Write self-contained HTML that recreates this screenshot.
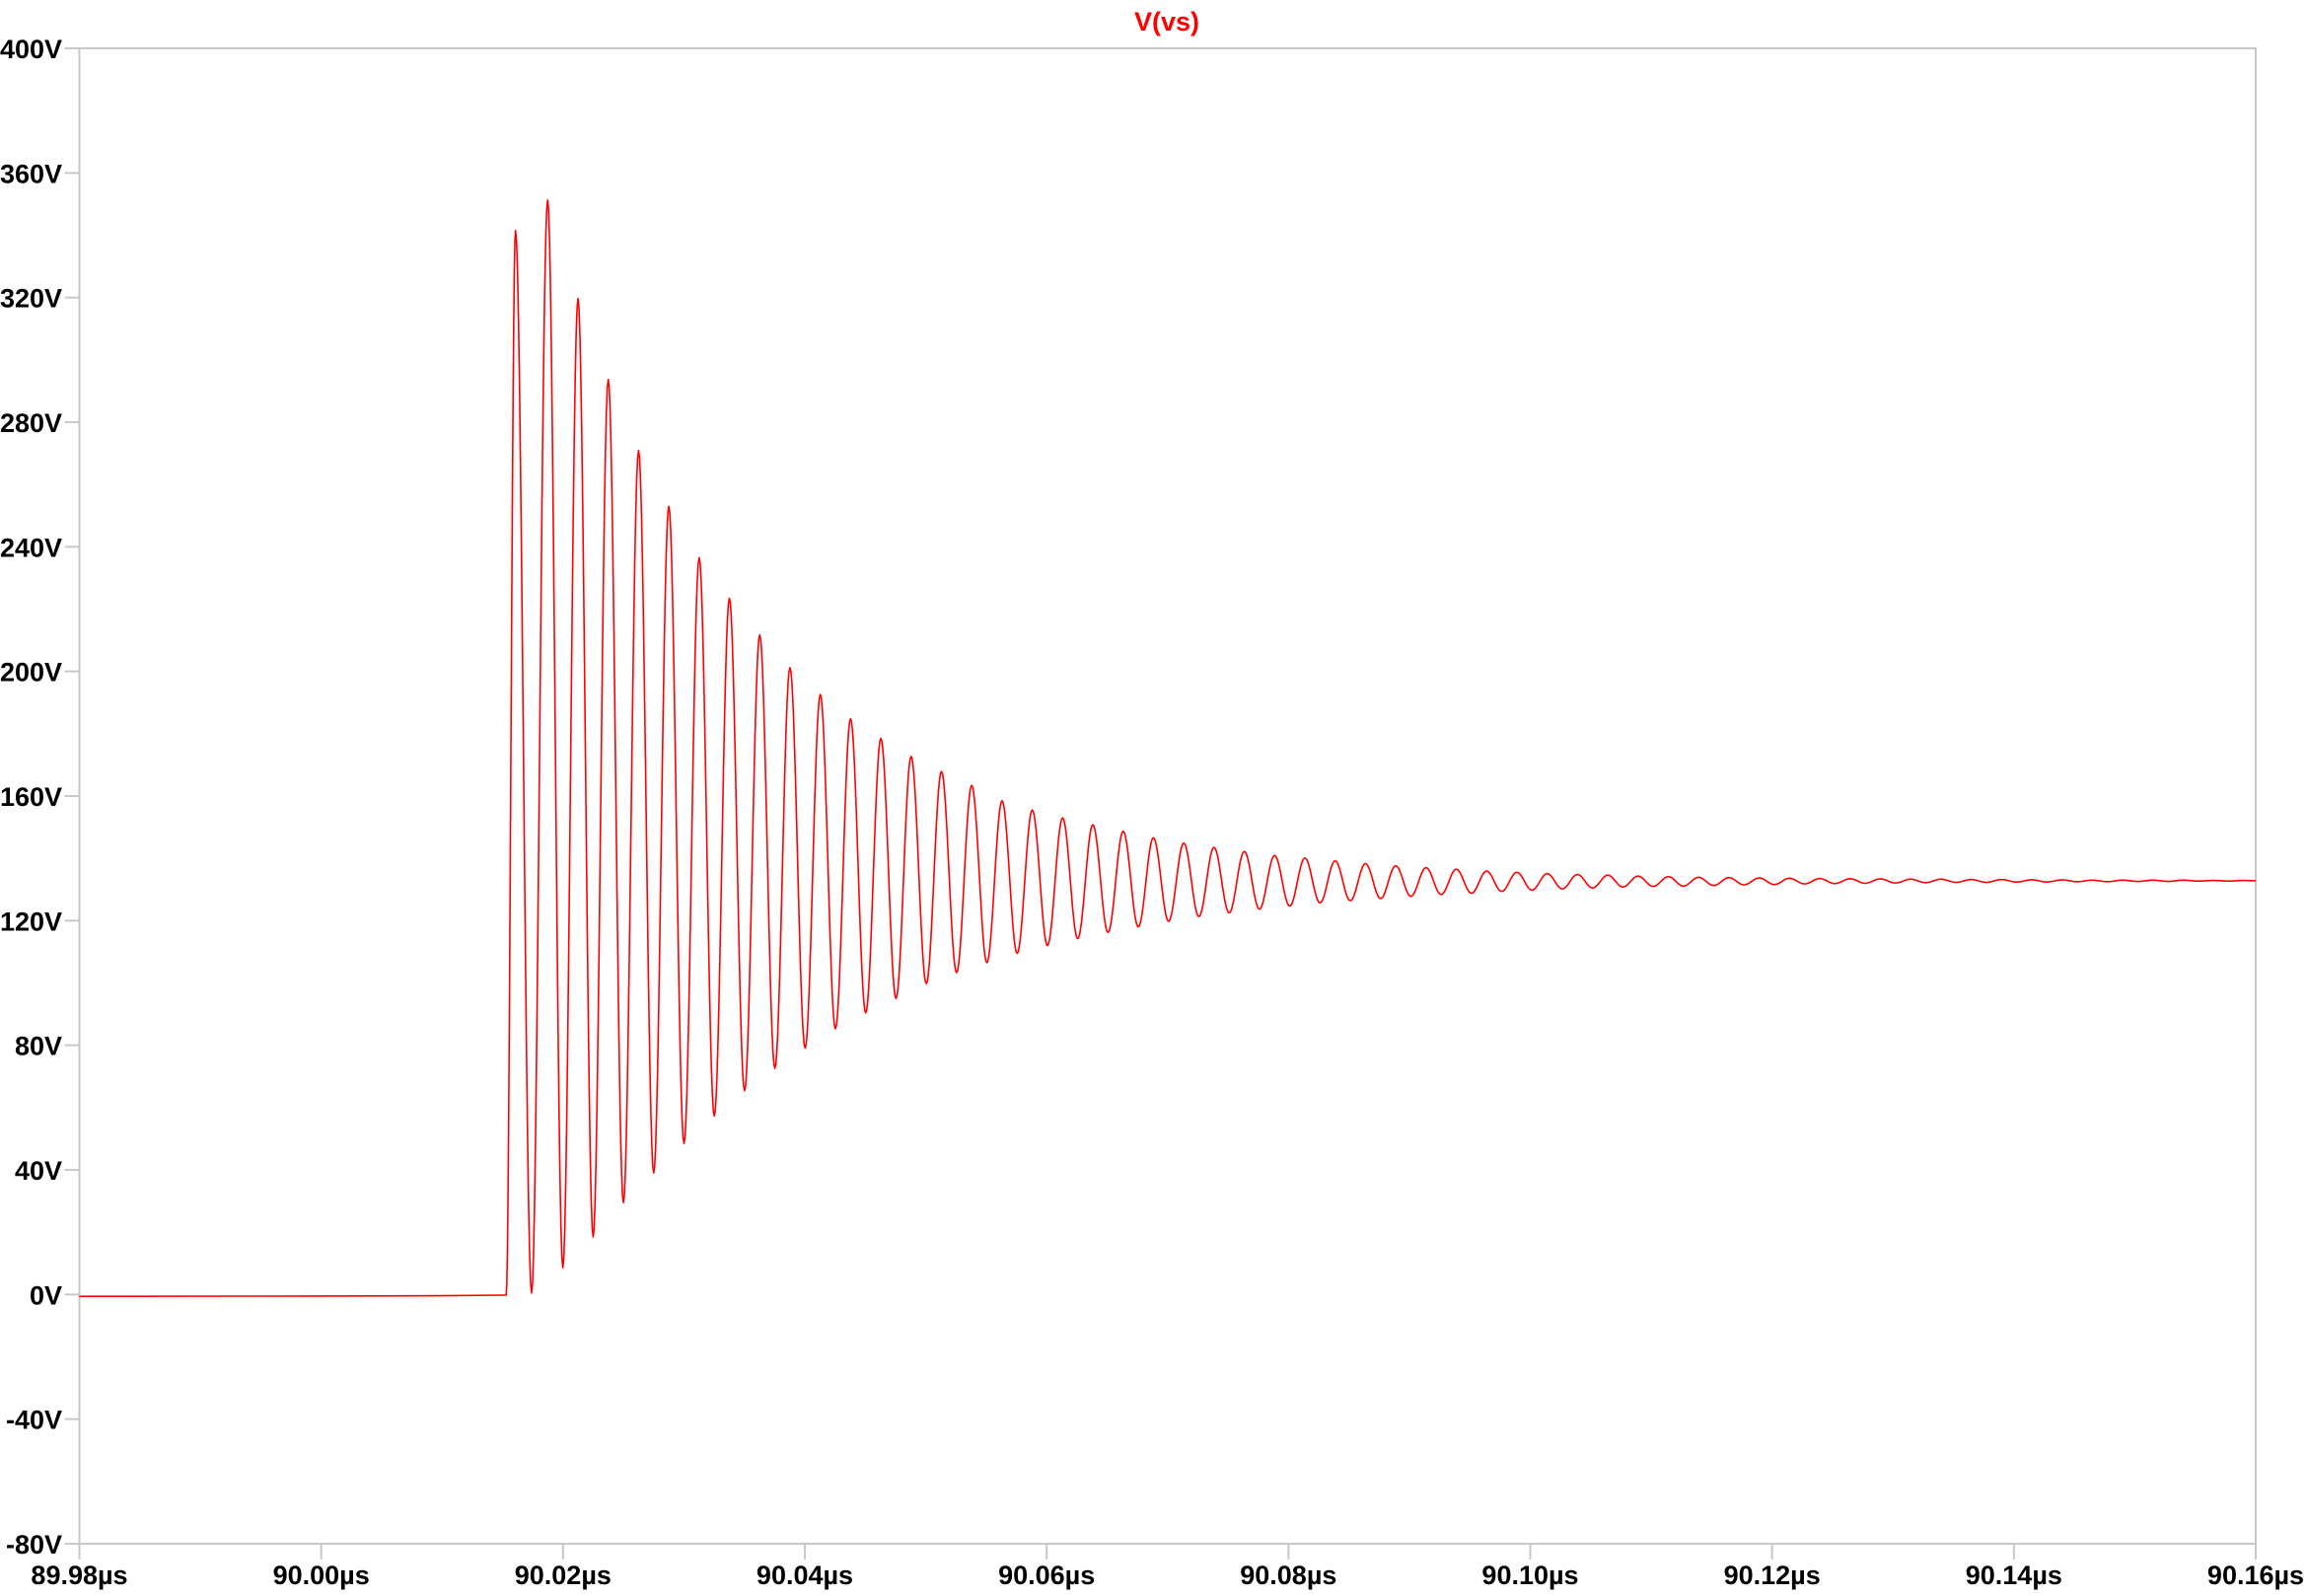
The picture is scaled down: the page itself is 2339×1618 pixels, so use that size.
<!DOCTYPE html>
<html><head><meta charset="utf-8"><title>V(vs)</title>
<style>html,body{margin:0;padding:0;background:#fff;}svg{display:block;}</style>
</head><body>
<svg id="chart" xmlns="http://www.w3.org/2000/svg" width="2339" height="1618" viewBox="0 0 2339 1618" font-family="Liberation Sans, Arial, sans-serif" font-weight="bold">
<rect x="0" y="0" width="2339" height="1618" fill="#fff"/>
<text x="1183" y="31" text-anchor="middle" font-size="27" fill="#ff0000">V(vs)</text>
<g id="axes"></g>
<g id="series"></g>
</svg>
<script>
const yTicks = [400, 360, 320, 280, 240, 200, 160, 120, 80, 40, 0, -40, -80];
const yTickLabels = ["400V","360V","320V","280V","240V","200V","160V","120V","80V","40V","0V","-40V","-80V"];
const xTicks = [89.98, 90.00, 90.02, 90.04, 90.06, 90.08, 90.10, 90.12, 90.14, 90.16];
const xTickLabels = ["89.98µs","90.00µs","90.02µs","90.04µs","90.06µs","90.08µs","90.10µs","90.12µs","90.14µs","90.16µs"];
const onsetTimes = [89.98, 90.00, 90.01, 90.0153];
const onsetValues = [-0.6, -0.5, -0.4, -0.2];
const peakTimes = [90.01607,90.01873,90.02124,90.02374,90.02625,90.02875,90.03126,90.03376,90.03627,90.03877,90.04128,90.04378,90.04629,90.04879,90.05130,90.05380,90.05631,90.05881,90.06132,90.06382,90.06633,90.06883,90.07134,90.07384,90.07635,90.07885,90.08136,90.08386,90.08637,90.08887,90.09138,90.09388,90.09639,90.09889,90.10140,90.10390,90.10641,90.10891,90.11142,90.11392,90.11643,90.11893,90.12144,90.12394,90.12645,90.12895,90.13146,90.13396,90.13647,90.13897,90.14148,90.14398,90.14649,90.14899,90.15150,90.15400,90.15651,90.15901];
const peakValues = [341.5,351.3,319.7,293.7,270.9,253.0,236.5,223.5,211.7,201.2,192.6,184.8,178.5,172.7,167.9,163.4,158.5,155.5,153,150.8,148.7,146.6,144.9,143.5,142.2,140.9,140.1,139.2,138.3,137.6,137.0,136.5,135.9,135.5,135.1,134.8,134.6,134.3,134.1,133.9,133.8,133.7,133.6,133.5,133.45,133.4,133.3,133.3,133.2,133.2,133.1,133.1,133.0,133.0,133.0,133.0,132.9,132.9];
const troughValues = [0.5,8.6,18.5,29.5,39,48.5,57.3,65.4,72.6,79.1,85.3,90.4,95,99.8,103.3,106.5,109.5,112,114.2,116.2,118.0,119.8,121.3,122.5,123.7,124.7,125.7,126.4,127.1,127.8,128.4,128.8,129.4,129.8,130.2,130.5,130.8,131.0,131.1,131.3,131.5,131.6,131.8,131.9,132.0,132.1,132.2,132.3,132.3,132.4,132.4,132.5,132.5,132.6,132.6,132.7,132.7];
const endTime = 90.16;
const endValue = 132.8;

const NS = "http://www.w3.org/2000/svg";
const L = 80.5, R = 2287, T = 49, B = 1565;
const xMin = 89.98, xMax = 90.16, yMin = -80, yMax = 400;
function xs(t){ return L + (t - xMin) / (xMax - xMin) * (R - L); }
function ys(v){ return B - (v - yMin) / (yMax - yMin) * (B - T); }
function mk(tag, attrs, parent){ const e = document.createElementNS(NS, tag); for (const k in attrs) e.setAttribute(k, attrs[k]); parent.appendChild(e); return e; }

const axes = document.getElementById('axes');
const frame = mk('rect', {x:L, y:T, width:R-L, height:B-T, fill:'none', stroke:'#c8c8c8', 'stroke-width':2}, axes);


yTicks.forEach((v, i) => {
  const y = ys(v);
  const tk = mk('line', {x1:L-15, x2:L, y1:y, y2:y, stroke:'#c8c8c8', 'stroke-width':2}, axes);
  
  
  const tx = mk('text', {x:63, y:y+10, 'text-anchor':'end', 'font-size':27, fill:'#000'}, axes);
  tx.textContent = yTickLabels[i];
  
  
});
xTicks.forEach((t, i) => {
  const x = xs(t);
  const tk = mk('line', {x1:x, x2:x, y1:B, y2:B+16, stroke:'#c8c8c8', 'stroke-width':2}, axes);
  
  
  const tx = mk('text', {x:x, y:1606, 'text-anchor':'middle', 'font-size':27, fill:'#000'}, axes);
  tx.textContent = xTickLabels[i];
  
  
});

// build extrema list
const ext = [];
for (let i = 0; i < onsetTimes.length; i++) ext.push([onsetTimes[i], onsetValues[i], 'lin']);
for (let k = 0; k < peakTimes.length; k++) {
  ext.push([peakTimes[k], peakValues[k], 'cos']);
  if (k < troughValues.length && k + 1 < peakTimes.length) {
    ext.push([(peakTimes[k] + peakTimes[k+1]) / 2, troughValues[k], 'cos']);
  }
}
ext.push([endTime, endValue, 'cos']);

let d = '';
for (let i = 0; i < ext.length; i++) {
  const [t, v, mode] = ext[i];
  if (i === 0) { d += 'M' + xs(t).toFixed(2) + ' ' + ys(v).toFixed(2); continue; }
  const [t0, v0] = ext[i-1];
  if (mode === 'lin') { d += 'L' + xs(t).toFixed(2) + ' ' + ys(v).toFixed(2); continue; }
  const n = 16;
  for (let j = 1; j <= n; j++) {
    const f = j / n;
    const w = (1 - Math.cos(Math.PI * f)) / 2;
    const tt = t0 + (t - t0) * f, vv = v0 + (v - v0) * w;
    d += 'L' + xs(tt).toFixed(2) + ' ' + ys(vv).toFixed(2);
  }
}
const series = document.getElementById('series');
const path = mk('path', {d:d, fill:'none', stroke:'#ff0000', 'stroke-width':1.6, 'stroke-linejoin':'round'}, series);


</script>
</body></html>
